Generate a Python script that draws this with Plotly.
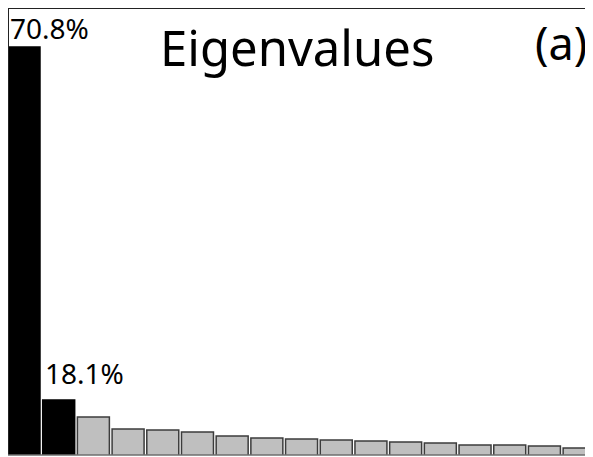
import plotly.graph_objects as go

# Data (percentages of variance)
components = list(range(1, 18))
values = [70.8, 18.1, 15.56, 13.77, 13.62, 13.32, 12.73, 12.43, 12.28,
          12.13, 11.98, 11.83, 11.68, 11.38, 11.38, 11.23, 10.94]
labels = ["70.8%", "18.1%"] + [""] * 15
highlight = [True, True] + [False] * 15

title_text = "Eigenvalues"
panel_text = "(a)"

FONT = "Noto Sans"
colors = ["#000000" if h else "#bfbfbf" for h in highlight]
line_colors = ["#000000" if h else "#3c3c3c" for h in highlight]
label_shift = {0: -2, 1: 6}  # pixel gap between label and bar top

x = [c - 1 for c in components]

fig = go.Figure()
fig.add_trace(go.Bar(
    x=x, y=values,
    marker=dict(color=colors, line=dict(color=line_colors, width=1.5)),
    hoverinfo="skip",
))

annotations = []
for i, (xi, v, lab) in enumerate(zip(x, values, labels)):
    if lab:
        annotations.append(dict(
            x=xi - 0.46, y=v, xref="x", yref="y", text=lab, showarrow=False,
            xanchor="left", yanchor="bottom", yshift=label_shift.get(i, 2),
            font=dict(family=FONT, size=28, color="#000000"),
        ))
annotations.append(dict(
    x=0.494, y=1, xref="paper", yref="paper", text=title_text, showarrow=False,
    xanchor="center", yanchor="top", yshift=-4,
    font=dict(family=FONT, size=49, color="#000000"),
))
annotations.append(dict(
    x=0.945, y=1, xref="paper", yref="paper", text=panel_text, showarrow=False,
    xanchor="center", yanchor="top", yshift=-2,
    font=dict(family=FONT, size=45, color="#000000"),
))

fig.update_layout(
    width=585, height=449,
    margin=dict(l=0, r=0, t=0, b=2),
    paper_bgcolor="#ffffff", plot_bgcolor="#ffffff",
    showlegend=False,
    bargap=0.078,
    annotations=annotations,
    shapes=[
        dict(type="line", xref="paper", yref="paper", x0=0, x1=1, y0=1, y1=1,
             line=dict(color="#222222", width=2)),
        dict(type="line", xref="paper", yref="paper", x0=0, x1=0, y0=0, y1=1,
             line=dict(color="#222222", width=2)),
        dict(type="line", xref="paper", yref="paper", x0=0, x1=1, y0=0, y1=0,
             line=dict(color="#6e6e6e", width=1.5)),
    ],
)
fig.update_xaxes(range=[-0.461, 16.40], showticklabels=False, showgrid=False,
                 zeroline=False, showline=False, ticks="")
fig.update_yaxes(range=[9.89, 76.62], showticklabels=False, showgrid=False,
                 zeroline=False, showline=False, ticks="")

fig.write_html("out.html")
